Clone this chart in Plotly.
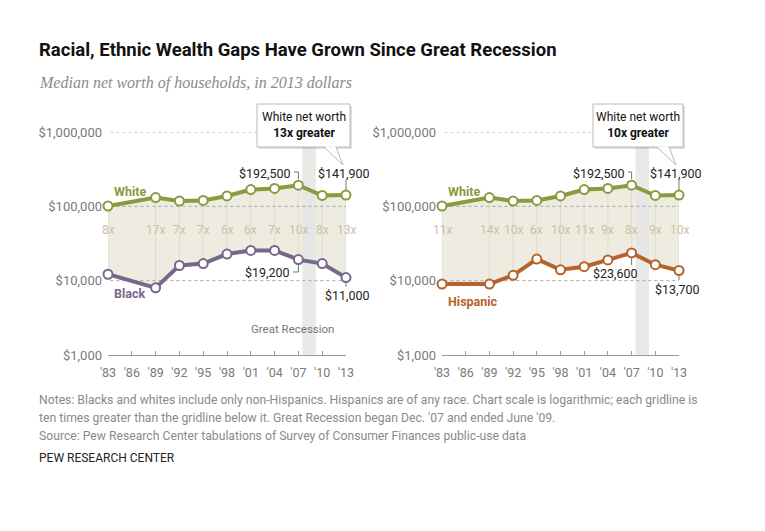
import math
import plotly.graph_objects as go

# ---------------- data ----------------
years = [1983, 1989, 1992, 1995, 1998, 2001, 2004, 2007, 2010, 2013]
white = [101000, 131000, 118000, 120000, 138000, 168000, 174000, 192500, 140000, 141900]
black = [12200, 8000, 16000, 17000, 22800, 25500, 25500, 19200, 17000, 11000]
hispanic = [9000, 9000, 11800, 19500, 14000, 15400, 19000, 23600, 16400, 13700]
ratio_black = ["8x", "17x", "7x", "7x", "6x", "6x", "7x", "10x", "8x", "13x"]
ratio_hisp = ["11x", "14x", "10x", "6x", "10x", "11x", "9x", "8x", "9x", "10x"]
tick_years = [1983, 1986, 1989, 1992, 1995, 1998, 2001, 2004, 2007, 2010, 2013]
tick_year_labels = ["'83", "'86", "'89", "'92", "'95", "'98", "'01", "'04", "'07", "'10", "'13"]
y_ticks = [1000, 10000, 100000, 1000000]
y_tick_labels = ["$1,000", "$10,000", "$100,000", "$1,000,000"]
recession = (2007.5, 2009.2)
callout_gap = {"left": "13x", "right": "10x"}

# ---------------- style ----------------
W, H = 765, 531
OFF = 8  # page body margin of the viewer
FONT = "Roboto"
C_WHITE = "#8c9a3e"
C_BLACK = "#76688a"
C_HISP = "#b5632a"
C_FILL = "#eeebe1"
C_VLINE = "#e0dccb"
C_RATIO = "#c9c3a3"
C_BAND = "#e5e7e5"
C_GRID = "#a8a8a8"
C_AXIS = "#9a9a9a"
C_TICKLBL = "#7a7a7a"

PANELS = {"left": (108, 346), "right": (442, 679)}
Y_BOT, Y_TOP = 355, 132  # pixel rows for $1,000 and $1,000,000


def PX(x):
    return (x - OFF) / W


def PY(y):
    return 1 - (y - OFF) / H


def xpix(panel, yr):
    a, b = PANELS[panel]
    return a + (yr - 1983) / 30 * (b - a)


def ypix(v):
    return Y_BOT - (math.log10(v) - 3) / 3 * (Y_BOT - Y_TOP)


def ylog_from_pix(p):
    return 3 + (Y_BOT - p) / (Y_BOT - Y_TOP) * 3


fig = go.Figure()


def text(x, y, s, size, color, anchor="left", family=FONT):
    fig.add_annotation(x=PX(x), y=PY(y), xref="paper", yref="paper", text=s,
                       showarrow=False, xanchor=anchor, yanchor="middle",
                       font=dict(family=family, size=size, color=color))


def add_panel(panel, xa, ya, other, other_color, other_name, ratios):
    fig.add_trace(go.Scatter(x=years, y=other, mode="lines", line=dict(width=0, color=C_FILL),
                             hoverinfo="skip", showlegend=False, xaxis=xa, yaxis=ya))
    fig.add_trace(go.Scatter(x=years, y=white, mode="lines", line=dict(width=0, color=C_FILL),
                             fill="tonexty", fillcolor=C_FILL, hoverinfo="skip",
                             showlegend=False, xaxis=xa, yaxis=ya))
    vx, vy = [], []
    for yr, w, o in zip(years, white, other):
        vx += [yr, yr, None]
        vy += [w, o, None]
    fig.add_trace(go.Scatter(x=vx, y=vy, mode="lines", line=dict(width=1, color=C_VLINE),
                             hoverinfo="skip", showlegend=False, xaxis=xa, yaxis=ya))
    top = 10 ** ylog_from_pix(147)
    fig.add_trace(go.Scatter(x=[recession[0], recession[1], recession[1], recession[0], recession[0]],
                             y=[1000, 1000, top, top, 1000], mode="lines", fill="toself",
                             fillcolor=C_BAND, line=dict(width=0), opacity=0.85,
                             hoverinfo="skip", showlegend=False, xaxis=xa, yaxis=ya))
    for t in y_ticks[1:]:
        fig.add_trace(go.Scatter(x=[1983.3, 2013], y=[t, t], mode="lines",
                                 line=dict(width=1, color=C_GRID, dash="dot"),
                                 hoverinfo="skip", showlegend=False, xaxis=xa, yaxis=ya))
    for vals, col in ((white, C_WHITE), (other, other_color)):
        fig.add_trace(go.Scatter(x=years, y=vals, mode="lines+markers",
                                 line=dict(width=4, color=col),
                                 marker=dict(size=9, color="white", line=dict(width=2, color=col)),
                                 cliponaxis=False, showlegend=False, xaxis=xa, yaxis=ya))
    ratio_y = ylog_from_pix(230)
    for yr, r in zip(years, ratios):
        fig.add_annotation(x=yr, y=ratio_y, xref=xa, yref=ya, text=r, showarrow=False,
                           xanchor="center", yanchor="middle",
                           font=dict(family=FONT, size=12, color=C_RATIO))
    text(PANELS[panel][0] + 4, 191, "<b>White</b>", 12.5, C_WHITE)
    oy = 293 if other_name == "Black" else 301
    text(PANELS[panel][0] + 4, oy, "<b>%s</b>" % other_name, 12.5, other_color)


add_panel("left", "x", "y", black, C_BLACK, "Black", ratio_black)
add_panel("right", "x2", "y2", hispanic, C_HISP, "Hispanic", ratio_hisp)

shapes = []


def connector(pts):
    d = "M " + " L ".join("%f,%f" % (PX(x), PY(y)) for x, y in pts)
    shapes.append(dict(type="path", path=d, xref="paper", yref="paper",
                       line=dict(color="#777", width=1)))


VAL_SIZE = 12.5
VAL_COLOR = "#222"

# left panel value labels
px07 = xpix("left", 2007)
px13 = xpix("left", 2013)
text(293, 173, "$192,500", VAL_SIZE, VAL_COLOR, "right")
connector([(294, 172), (px07, 172), (px07, ypix(192500) - 6)])
text(px13 - 2, 173, "$141,900", VAL_SIZE, VAL_COLOR, "center")
connector([(px13, 180), (px13, ypix(141900) - 5)])
text(292, 272, "$19,200", VAL_SIZE, VAL_COLOR, "right")
connector([(293, 272), (px07, 272), (px07, ypix(19200) + 5)])
text(px13 + 1, 295, "$11,000", VAL_SIZE, VAL_COLOR, "center")
connector([(px13, ypix(11000) + 5), (px13, 287)])

# right panel value labels
rx07 = xpix("right", 2007)
rx13 = xpix("right", 2013)
text(627, 173, "$192,500", VAL_SIZE, VAL_COLOR, "right")
connector([(628, 172), (rx07, 172), (rx07, ypix(192500) - 6)])
text(rx13 - 3, 173, "$141,900", VAL_SIZE, VAL_COLOR, "center")
connector([(rx13, 180), (rx13, ypix(141900) - 5)])
text(615, 273, "$23,600", VAL_SIZE, VAL_COLOR, "center")
connector([(rx07, ypix(23600) + 5), (rx07, 265)])
text(rx13 - 2, 289, "$13,700", VAL_SIZE, VAL_COLOR, "center")
connector([(rx13, ypix(13700) + 5), (rx13, 280)])

text(292, 329, "Great Recession", 11.5, "#777", "center")

# callouts
for panel, (bx0, bx1) in (("left", (257, 350)), ("right", (593, 683))):
    by0, by1 = 104, 147
    tipx = xpix(panel, 2013) - 3
    shapes.append(dict(type="rect", xref="paper", yref="paper", x0=PX(bx0 + 2), x1=PX(bx1 + 2),
                       y0=PY(by1 + 2), y1=PY(by0 + 2), fillcolor="rgba(0,0,0,0.12)",
                       line=dict(width=0)))
    shapes.append(dict(type="rect", xref="paper", yref="paper", x0=PX(bx0), x1=PX(bx1),
                       y0=PY(by1), y1=PY(by0), fillcolor="white",
                       line=dict(width=1, color="#b8b8b8")))
    p = "M %f,%f L %f,%f L %f,%f Z" % (PX(bx1 - 26), PY(by1 - 0.5), PX(bx1 - 14), PY(by1 - 0.5),
                                         PX(tipx), PY(165))
    shapes.append(dict(type="path", path=p, xref="paper", yref="paper", fillcolor="white",
                       line=dict(width=0)))
    p2 = "M %f,%f L %f,%f L %f,%f" % (PX(bx1 - 26), PY(by1), PX(tipx), PY(165), PX(bx1 - 14), PY(by1))
    shapes.append(dict(type="path", path=p2, xref="paper", yref="paper",
                       line=dict(width=1, color="#b8b8b8")))
    text((bx0 + bx1) / 2, (by0 + by1) / 2,
         "White net worth<br><b>%s greater</b>" % callout_gap[panel], 12, "#111", "center")

# title, subtitle, notes
text(37, 50, "<b>Racial, Ethnic Wealth Gaps Have Grown Since Great Recession</b>", 18.5, "#111")
text(37, 83, "<i>Median net worth of households, in 2013 dollars</i>", 16, "#8a8a8a",
     family="Liberation Serif")
notes = [
    "Notes: Blacks and whites include only non-Hispanics. Hispanics are of any race. Chart scale is logarithmic; each gridline is",
    "ten times greater than the gridline below it. Great Recession began Dec. '07 and ended June '09.",
    "Source: Pew Research Center tabulations of Survey of Consumer Finances public-use data",
]
for i, line in enumerate(notes):
    text(37, 400 + 18 * i, line, 12.2, "#8a8a8a")
text(37, 458, "PEW RESEARCH CENTER", 12, "#222")

xaxis_common = dict(range=[1983, 2013], tickvals=tick_years, ticktext=tick_year_labels,
                    showgrid=False, zeroline=False, showline=True, linecolor=C_AXIS, linewidth=1,
                    ticks="inside", ticklen=4, tickcolor=C_AXIS, ticklabelstandoff=6,
                    automargin=False,
                    tickfont=dict(family=FONT, size=12.5, color=C_TICKLBL), fixedrange=True)
yaxis_common = dict(type="log", range=[3, 6], tickvals=y_ticks, ticktext=y_tick_labels,
                    showgrid=False, zeroline=False, showline=False, ticks="",
                    ticklabelstandoff=5, automargin=False,
                    tickfont=dict(family=FONT, size=13, color=C_TICKLBL),
                    domain=[PY(Y_BOT), PY(Y_TOP)], fixedrange=True)

fig.update_layout(
    template="none",
    width=W, height=H, margin=dict(l=0, r=0, t=0, b=0, pad=0, autoexpand=False),
    paper_bgcolor="white", plot_bgcolor="rgba(0,0,0,0)",
    showlegend=False, shapes=shapes,
    xaxis=dict(domain=[PX(PANELS["left"][0]), PX(PANELS["left"][1])], anchor="y", **xaxis_common),
    yaxis=dict(anchor="x", **yaxis_common),
    xaxis2=dict(domain=[PX(PANELS["right"][0]), PX(PANELS["right"][1])], anchor="y2", **xaxis_common),
    yaxis2=dict(anchor="x2", **yaxis_common),
)

fig.write_html("out.html")
